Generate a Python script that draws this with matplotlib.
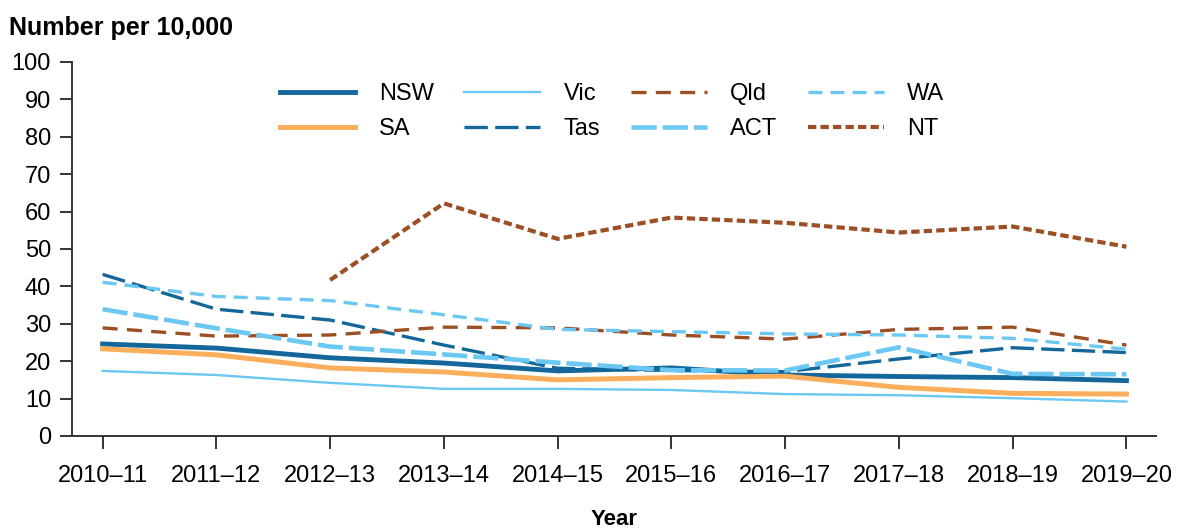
import numpy as np
import matplotlib.pyplot as plt

plt.rcParams['font.family'] = ['Liberation Sans', 'DejaVu Sans']

years = ['2010–11', '2011–12', '2012–13', '2013–14', '2014–15',
         '2015–16', '2016–17', '2017–18', '2018–19', '2019–20']

nsw = [24.6, 23.5, 20.9, 19.5, 17.4, 18.2, 16.3, 15.9, 15.6, 14.8]
vic = [17.4, 16.3, 14.2, 12.6, 12.6, 12.3, 11.2, 10.9, 10.1, 9.2]
qld = [28.9, 26.7, 27.0, 29.1, 28.9, 27.0, 25.9, 28.5, 29.1, 24.3]
wa = [41.1, 37.3, 36.2, 32.4, 28.5, 27.9, 27.3, 27.0, 26.1, 23.2]
sa = [23.3, 21.7, 18.2, 17.1, 15.0, 15.6, 16.0, 13.0, 11.4, 11.2]
tas = [43.2, 33.9, 31.0, 24.3, 18.1, 17.5, 17.2, 20.6, 23.6, 22.3]
act = [33.9, 28.8, 23.9, 21.8, 19.6, 17.6, 17.5, 23.7, 16.6, 16.5]
nt = [np.nan, np.nan, 41.7, 62.2, 52.7, 58.4, 57.0, 54.4, 56.0, 50.6]

dark_blue = '#13679a'
light_blue = '#6bc8f2'
orange = '#fbae5b'
brown = '#9c4f24'

x = np.arange(len(years))

fig = plt.figure(figsize=(11.79, 5.32), dpi=100)
ax = fig.add_axes([0.061, 0.1805, 0.9195, 0.703])

ax.plot(x, nsw, color=dark_blue, lw=3.5, label='NSW')
ax.plot(x, sa, color=orange, lw=3.6, label='SA')
ax.plot(x, vic, color=light_blue, lw=1.7, label='Vic')
ax.plot(x, tas, color=dark_blue, lw=2.4, dashes=(7, 2.2), label='Tas')
ax.plot(x, qld, color=brown, lw=2.4, dashes=(4.5, 2.8), label='Qld')
ax.plot(x, act, color=light_blue, lw=3.3, dashes=(5.5, 1.3), label='ACT')
ax.plot(x, wa, color=light_blue, lw=2.4, dashes=(4.2, 2.4), label='WA')
ax.plot(x, nt, color=brown, lw=3.0, dashes=(2, 1), label='NT')

ax.set_xlim(-0.27, 9.26)
ax.set_ylim(0, 100)
ax.set_yticks(np.arange(0, 101, 10))
ax.set_xticks(x)
ax.set_xticklabels(years)

for side in ['top', 'right']:
    ax.spines[side].set_visible(False)
for side in ['left', 'bottom']:
    ax.spines[side].set_color('#333333')
    ax.spines[side].set_linewidth(1.4)
ax.tick_params(axis='both', labelsize=17, length=9, width=1.4,
               color='#333333', labelcolor='black')
ax.tick_params(axis='y', pad=6)
ax.tick_params(axis='x', pad=12)

ax.set_xlabel('Year', fontsize=16, fontweight='bold', labelpad=16)
fig.text(0.008, 0.947, 'Number per 10,000', fontsize=18, fontweight='bold',
         ha='left', va='center')

ax.legend(ncol=4, loc='upper left', bbox_to_anchor=(0.183, 0.968),
          frameon=False, fontsize=17, handlelength=3.2,
          handletextpad=1.0, columnspacing=1.3, labelspacing=0.55,
          borderaxespad=0)

fig.savefig('out.png', dpi=100)
